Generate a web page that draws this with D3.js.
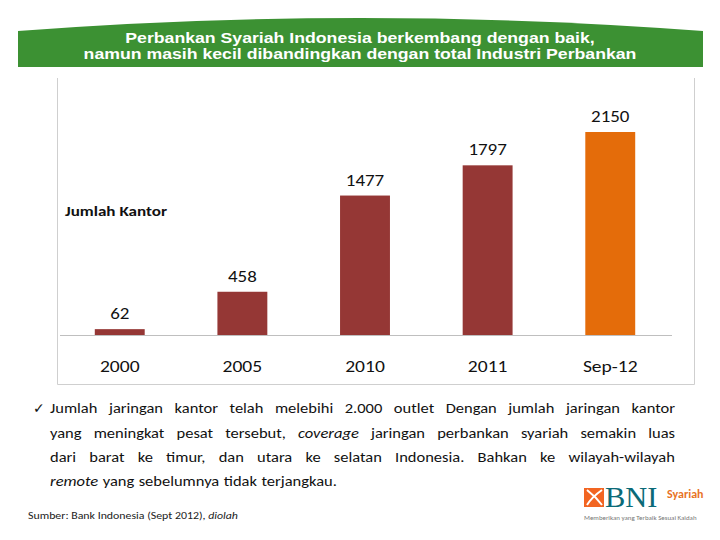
<!DOCTYPE html>
<html><head><meta charset="utf-8">
<script src="https://cdn.jsdelivr.net/npm/d3@7"></script>
<style>body{margin:0;background:#fff}svg{display:block}</style>
</head><body>
<svg id="c" width="720" height="540"></svg>
<script>
const titleLines = ["Perbankan Syariah Indonesia berkembang dengan baik,", "namun masih kecil dibandingkan dengan total Industri Perbankan"];
const categories = ["2000", "2005", "2010", "2011", "Sep-12"];
const values = [62, 458, 1477, 1797, 2150];
const seriesLabel = "Jumlah Kantor";
const paragraphLines = [
  ["Jumlah", "jaringan", "kantor", "telah", "melebihi", "2.000", "outlet", "Dengan", "jumlah", "jaringan", "kantor"],
  ["yang", "meningkat", "pesat", "tersebut,", "*coverage", "jaringan", "perbankan", "syariah", "semakin", "luas"],
  ["dari", "barat", "ke", "timur,", "dan", "utara", "ke", "selatan", "Indonesia.", "Bahkan", "ke", "wilayah-wilayah"],
  ["*remote", "yang", "sebelumnya", "tidak", "terjangkau."]
];
const sourceText = ["Sumber: Bank Indonesia (Sept 2012), ", "diolah"];

const svg = d3.select("#c");
const bodyFont = "Carlito, Lato, 'Open Sans', sans-serif";
const SX = 1.15; // horizontal stretch of the reference's text

// Title banner
svg.append("path")
  .attr("d", "M18,67 L18,31 Q360,5 703,31 L703,67 Z")
  .attr("fill", "#3c9133");
svg.append("g").selectAll("text").data(titleLines).join("text")
  .attr("transform", (d, i) => `translate(360,${42.8 + i * 16}) scale(1.22,1)`)
  .attr("text-anchor", "middle")
  .attr("font-family", "'Liberation Sans', Arial, sans-serif").attr("font-weight", "bold")
  .attr("font-size", 14.5).attr("fill", "#fff")
  .text(d => d);

// Chart frame (left, bottom, right edges)
svg.append("path").attr("d", "M57.5,78V384.5H694.5V78")
  .attr("fill", "none").attr("stroke", "#cfcfcf");

const x = d3.scaleBand().domain(categories).range([58, 672]).paddingInner(0.593).paddingOuter(0.3);
const y = d3.scaleLinear().domain([0, 2150]).range([335, 132]);

const barsG = svg.append("g");
barsG.selectAll("rect").data(values).join("rect")
  .attr("x", (d, i) => x(categories[i]))
  .attr("width", x.bandwidth())
  .attr("y", d => y(d))
  .attr("height", d => y(0) - y(d))
  .attr("fill", (d, i) => i === values.length - 1 ? "#e46c0a" : "#953735");

barsG.selectAll("text").data(values).join("text")
  .attr("transform", (d, i) => `translate(${x(categories[i]) + x.bandwidth() / 2},${y(d) - 10}) scale(${SX},1)`)
  .attr("text-anchor", "middle")
  .attr("font-family", bodyFont).attr("font-size", 16.5).attr("fill", "#111")
  .text(d => d);

// axis
const xAxis = d3.axisBottom(x).tickSize(0).tickPadding(0);
const ax = svg.append("g").attr("transform", `translate(0,${y(0)})`).call(xAxis);
ax.select(".domain").attr("stroke", "#bfbfbf").attr("d", "M60,0.5H672");
ax.selectAll(".tick text").attr("y", 0).attr("dy", 0)
  .attr("transform", `translate(0,37) scale(${SX},1)`)
  .attr("font-family", bodyFont).attr("font-size", 17).attr("fill", "#111");

svg.append("text").attr("transform", "translate(65,216) scale(1.18,1)")
  .attr("font-family", bodyFont).attr("font-weight", "bold").attr("font-size", 14.5).attr("fill", "#111")
  .text(seriesLabel);

// Paragraph
svg.append("text").attr("x", 33).attr("y", 413).attr("font-family", "'DejaVu Sans', sans-serif")
  .attr("font-size", 14).attr("fill", "#111").text("\u2713");
const PSX = 1.1;
const left = 50, right = 675, lineY0 = 413.3, lh = 24.3;
paragraphLines.forEach((words, li) => {
  const g = svg.append("g");
  const yy = lineY0 + li * lh;
  const ts = g.selectAll("text").data(words).join("text")
    .attr("font-family", bodyFont).attr("font-size", 15).attr("fill", "#111")
    .attr("font-style", d => d.startsWith("*") ? "italic" : "normal")
    .text(d => d.replace("*", ""));
  const widths = ts.nodes().map(n => n.getComputedTextLength() * PSX);
  const total = d3.sum(widths);
  const last = li === paragraphLines.length - 1;
  const gap = last ? 4.4 : (right - left - total) / (words.length - 1);
  let cx = left;
  ts.each(function(d, i) {
    d3.select(this).attr("transform", `translate(${cx},${yy}) scale(${PSX},1)`);
    cx += widths[i] + gap;
  });
});

// Source
const src = svg.append("text").attr("transform", "translate(28,518.5) scale(1.13,1)")
  .attr("font-family", bodyFont).attr("font-size", 10.5).attr("fill", "#222");
src.append("tspan").text(sourceText[0]);
src.append("tspan").attr("font-style", "italic").text(sourceText[1]);

// Logo
const logo = svg.append("g");
logo.append("rect").attr("x", 584).attr("y", 488).attr("width", 20).attr("height", 19).attr("fill", "#f26522");
logo.append("path").attr("d", "M587,490 Q596,497 602,505 M602,490 Q592,497 587,505").attr("stroke", "#fff").attr("stroke-width", 2).attr("fill", "none");
logo.append("text").attr("transform", "translate(605,507) scale(1.05,1)").attr("font-family", "'Liberation Serif', 'DejaVu Serif', serif")
  .attr("font-size", 29).attr("fill", "#0b6a78").text("BNI");
logo.append("text").attr("x", 667).attr("y", 498).attr("font-family", bodyFont).attr("font-weight", "bold")
  .attr("font-size", 12).attr("fill", "#e8731f").text("Syariah");
logo.append("text").attr("transform", "translate(584,520) scale(1.1,1)").attr("font-family", bodyFont)
  .attr("font-size", 6.3).attr("fill", "#777").text("Memberikan yang Terbaik Sesuai Kaidah");
</script>
</body></html>
